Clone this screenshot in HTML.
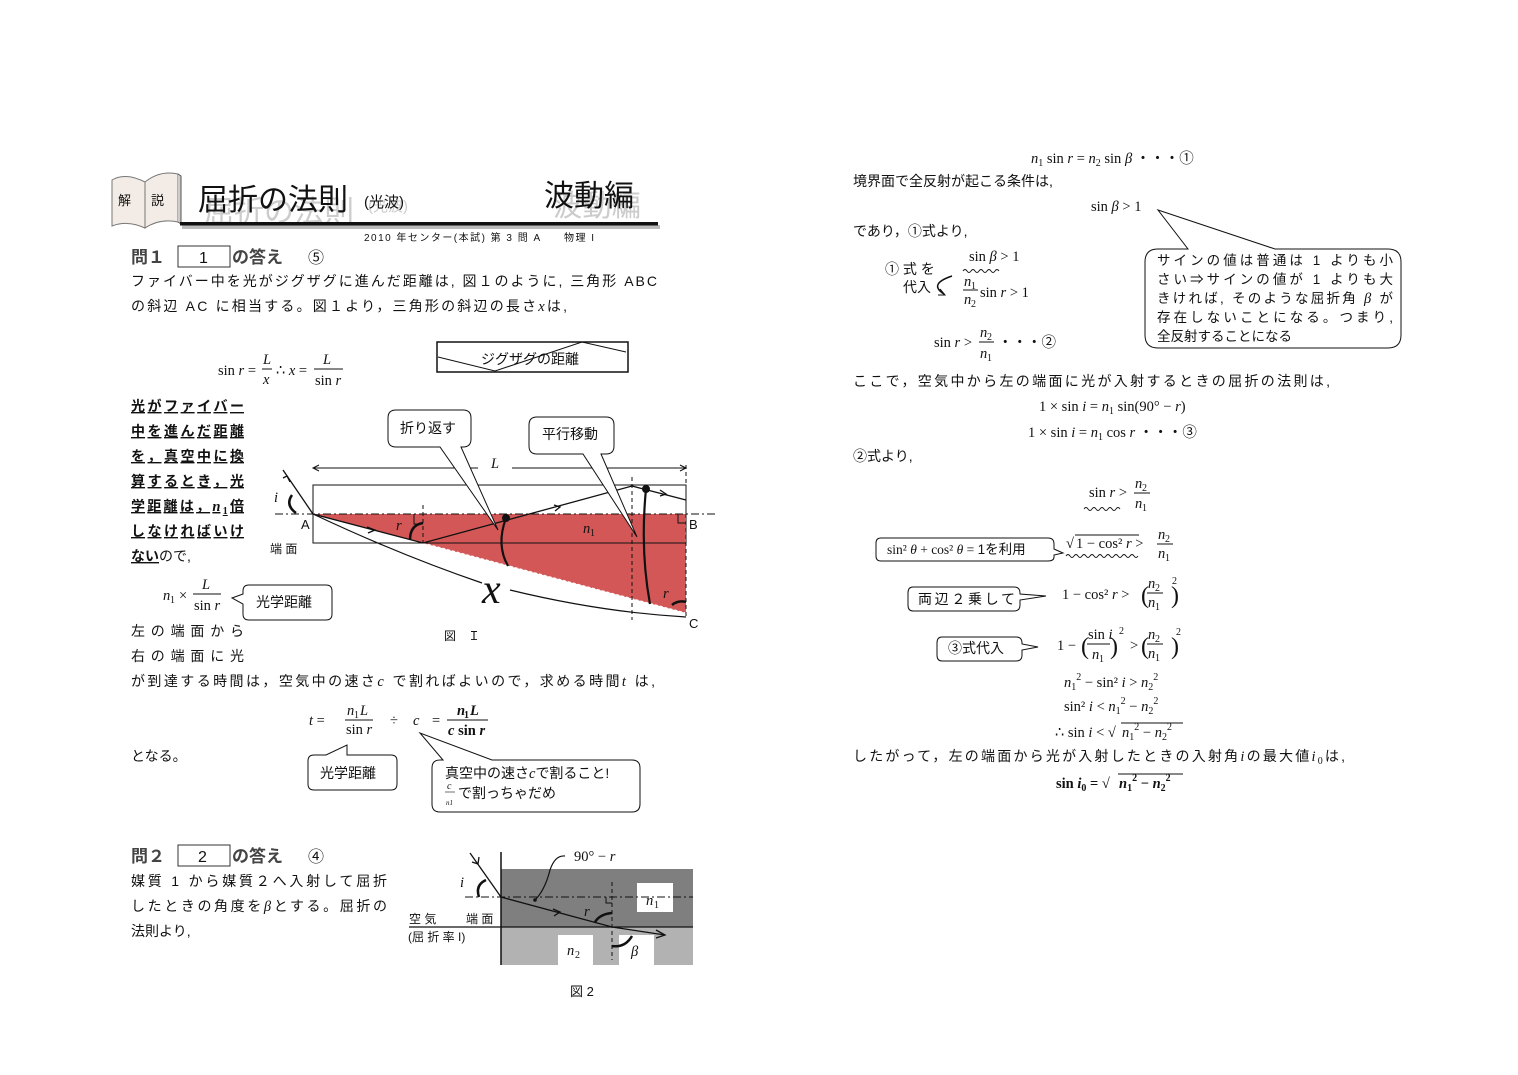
<!DOCTYPE html>
<html><head><meta charset="utf-8"><style>
body{margin:0;background:#fff}
svg{display:block}
.j{font-family:"Liberation Sans","Noto Sans CJK JP",sans-serif;font-size:14px;fill:#111}
.m{font-family:"Liberation Serif","DejaVu Serif",serif;font-size:14.5px;fill:#111}
.s{font-family:"Liberation Serif","DejaVu Serif",serif;font-size:10px;fill:#111}
.i{font-style:italic}
.b{font-weight:bold}
</style></head><body>
<svg width="1518" height="1075" viewBox="0 0 1518 1075" xmlns="http://www.w3.org/2000/svg">
<!-- header -->
<path d="M112,180 Q125,172 145,182 L145,228 Q128,220 112,226 Z" fill="#f3ece6" stroke="#777"/>
<path d="M145,182 Q160,170 178,174 L178,222 Q160,218 145,228 Z" fill="#f3ece6" stroke="#777"/>
<path d="M178,174 L181,176 L181,224 L178,222" fill="#ccc" stroke="#555"/>
<text x="118" y="205" class="j" style="font-size:13px">解</text>
<text x="151" y="205" class="j" style="font-size:13px">説</text>
<text x="204" y="222" class="j" style="font-size:30px;fill:#ccc" textLength="150" lengthAdjust="spacingAndGlyphs">屈折の法則</text>
<text x="198" y="210" class="j" style="font-size:30px" textLength="150" lengthAdjust="spacingAndGlyphs">屈折の法則</text>
<text x="368" y="211" class="j" style="font-size:15px;fill:#ccc">(光波)</text>
<text x="364" y="207" class="j" style="font-size:15px">(光波)</text>
<text x="553" y="216" class="j" style="font-size:30px;fill:#ccc" textLength="88" lengthAdjust="spacingAndGlyphs">波動編</text>
<text x="544" y="206" class="j" style="font-size:30px" textLength="90" lengthAdjust="spacingAndGlyphs">波動編</text>
<rect x="182" y="225" width="478" height="4" fill="#bbb"/>
<rect x="180" y="222" width="478" height="3.5" fill="#111"/>
<text x="364" y="241" class="j" style="font-size:10px" textLength="230">2010 年センター(本試) 第 3 問 A　　物理 I</text>

<!-- 問1 -->
<text x="131" y="263" class="j b" style="font-size:17px;fill:#444">問１</text>
<rect x="178" y="246" width="52" height="21" fill="none" stroke="#333"/>
<text x="199" y="263" class="j" style="font-size:16px">1</text>
<text x="232" y="263" class="j b" style="font-size:17px;fill:#444">の答え</text>
<text x="308" y="263" class="j" style="font-size:16px">⑤</text>
<text x="131" y="286" class="j" textLength="526">ファイバー中を光がジグザグに進んだ距離は, 図１のように, 三角形 ABC</text>
<text x="131" y="311" class="j" textLength="436">の斜辺 AC に相当する。図１より，三角形の斜辺の長さ<tspan class="m i">x</tspan>は,</text>

<text x="218" y="375" class="m">sin <tspan class="i">r</tspan> =</text>
<text x="263" y="364" class="m i">L</text><line x1="262" y1="369" x2="272" y2="369" stroke="#111"/><text x="263" y="384" class="m i">x</text>
<text x="276" y="375" class="m">∴ <tspan class="i">x</tspan> =</text>
<text x="323" y="364" class="m i">L</text><line x1="314" y1="369" x2="343" y2="369" stroke="#111"/><text x="315" y="385" class="m">sin <tspan class="i">r</tspan></text>

<rect x="437" y="342" width="191" height="30" fill="#fff" stroke="#111" stroke-width="1.5"/>
<polyline points="438,357 495,371 582,342 626,352" fill="none" stroke="#111"/>
<text x="481" y="364" class="j">ジグザグの距離</text>

<g class="j b" style="font-size:14px;text-decoration:underline">
<text x="131" y="411" textLength="113">光がファイバー</text>
<text x="131" y="436" textLength="113">中を進んだ距離</text>
<text x="131" y="461" textLength="113">を，真空中に換</text>
<text x="131" y="486" textLength="113">算するとき，光</text>
<text x="131" y="511" textLength="113">学距離は，<tspan class="m i b">n</tspan><tspan class="s b" dy="3">1</tspan><tspan dy="-3">倍</tspan></text>
<text x="131" y="536" textLength="113">しなければいけ</text>
</g>
<text x="131" y="561" class="j"><tspan class="b" style="text-decoration:underline">ない</tspan>ので,</text>

<text x="163" y="600" class="m i">n</text><text x="170" y="603" class="s">1</text><text x="179" y="600" class="m">×</text>
<text x="202" y="589" class="m i">L</text><line x1="193" y1="594" x2="221" y2="594" stroke="#111"/><text x="194" y="610" class="m">sin <tspan class="i">r</tspan></text>
<path d="M249,585 L326,585 Q332,585 332,591 L332,614 Q332,620 326,620 L249,620 Q243,620 243,614 L243,604 L232,598 L243,594 L243,591 Q243,585 249,585 Z" fill="#fff" stroke="#111"/>
<text x="256" y="607" class="j">光学距離</text>

<text x="131" y="636" class="j" textLength="113">左の端面から</text>
<text x="131" y="661" class="j" textLength="113">右の端面に光</text>
<text x="131" y="686" class="j" textLength="524">が到達する時間は，空気中の速さ<tspan class="m i">c</tspan> で割ればよいので，求める時間<tspan class="m i">t</tspan> は,</text>

<text x="309" y="725" class="m"><tspan class="i">t</tspan> =</text>
<text x="347" y="715" class="m i">n</text><text x="354" y="718" class="s">1</text><text x="360" y="715" class="m i">L</text>
<line x1="345" y1="720" x2="373" y2="720" stroke="#111"/><text x="346" y="734" class="m">sin <tspan class="i">r</tspan></text>
<text x="390" y="725" class="m">÷</text><text x="413" y="725" class="m i">c</text><text x="432" y="725" class="m">=</text>
<text x="457" y="715" class="m i b">n</text><text x="464" y="718" class="s b">1</text><text x="470" y="715" class="m i b">L</text>
<line x1="447" y1="720" x2="488" y2="720" stroke="#111"/><text x="448" y="735" class="m b"><tspan class="i">c</tspan> sin <tspan class="i">r</tspan></text>
<text x="131" y="761" class="j">となる。</text>
<path d="M314,755 L326,755 L347,745 L347,755 L391,755 Q397,755 397,761 L397,784 Q397,790 391,790 L314,790 Q308,790 308,784 L308,761 Q308,755 314,755 Z" fill="#fff" stroke="#111"/>
<text x="320" y="778" class="j">光学距離</text>
<path d="M440,760 L443,760 L420,733 L492,760 L632,760 Q640,760 640,768 L640,804 Q640,812 632,812 L440,812 Q432,812 432,804 L432,768 Q432,760 440,760 Z" fill="#fff" stroke="#111"/>
<text x="445" y="778" class="j">真空中の速さ<tspan class="m i">c</tspan>で割ること!</text>
<text x="447" y="789" class="s i">c</text><line x1="445" y1="792" x2="455" y2="792" stroke="#111" stroke-width=".6"/><text x="446" y="805" class="s i" style="font-size:7px">n1</text>
<text x="458" y="798" class="j">で割っちゃだめ</text>

<!-- Figure 1 -->
<line x1="313" y1="468" x2="478" y2="468" stroke="#111"/><line x1="512" y1="468" x2="686" y2="468" stroke="#111"/>
<path d="M319,465 L313,468 L319,471 M680,465 L686,468 L680,471" fill="none" stroke="#111"/>
<text x="491" y="468" class="m i">L</text>
<rect x="313" y="485" width="373" height="58" fill="#fff" stroke="#111"/>
<polygon points="313,514 686,514 686,613" fill="#d45757"/>
<line x1="423" y1="543" x2="686" y2="613" stroke="#fff" stroke-dasharray="3,2"/>
<line x1="313" y1="543" x2="686" y2="543" stroke="#111"/>
<line x1="275" y1="514" x2="716" y2="514" stroke="#111" stroke-dasharray="8,3,2,3"/>
<line x1="423" y1="505" x2="423" y2="543" stroke="#111" stroke-dasharray="4,3"/>
<line x1="632" y1="477" x2="632" y2="620" stroke="#111" stroke-dasharray="4,3"/>
<line x1="686" y1="465" x2="686" y2="617" stroke="#111" stroke-dasharray="4,3"/>
<path d="M414,514 L414,524 L423,524 M686,523 L678,523 L678,514" fill="none" stroke="#111"/>
<polyline points="283,470 313,514 423,543 632,486 686,500" fill="none" stroke="#111" stroke-width="1.3"/>
<path d="M283,478 L287,476 L290,482 M367,527 L375,530 L368,533 M554,505 L560,507 L555,511 M660,490 L666,494 L660,496" fill="none" stroke="#111" stroke-width="1.3"/>
<path d="M296,513 Q285,505 292,495" fill="none" stroke="#111" stroke-width="2.5"/>
<path d="M410,540 Q410,525 423,523" fill="none" stroke="#111" stroke-width="2.5"/>
<path d="M672,605 Q678,600 686,602" fill="none" stroke="#111" stroke-width="2.5"/>
<circle cx="506" cy="518" r="4" fill="#111"/><circle cx="646" cy="489" r="4" fill="#111"/>
<path d="M506,518 Q496,545 508,566" fill="none" stroke="#111" stroke-width="2.2"/>
<path d="M646,489 Q640,550 650,604" fill="none" stroke="#111" stroke-width="2.2"/>
<path d="M313,514 Q400,555 482,583" fill="none" stroke="#111" stroke-width="1.2"/>
<path d="M510,590 Q600,612 686,617" fill="none" stroke="#111" stroke-width="1.2"/>
<text x="482" y="603" style="font-family:'Liberation Serif',serif;font-style:italic;font-size:42px;fill:#111">x</text>
<path d="M396,410 L463,410 Q471,410 471,418 L471,439 Q471,447 463,447 L461,447 L498,530 L440,447 L396,447 Q388,447 388,439 L388,418 Q388,410 396,410 Z" fill="#fff" stroke="#111"/>
<text x="400" y="433" class="j">折り返す</text>
<path d="M537,417 L606,417 Q614,417 614,425 L614,446 Q614,454 606,454 L601,454 L637,537 L583,454 L537,454 Q529,454 529,446 L529,425 Q529,417 537,417 Z" fill="#fff" stroke="#111"/>
<text x="542" y="439" class="j">平行移動</text>
<text x="274" y="502" class="m i">i</text>
<text x="301" y="529" class="j" style="font-size:13px">A</text>
<text x="689" y="529" class="j" style="font-size:13px">B</text>
<text x="689" y="628" class="j" style="font-size:13px">C</text>
<text x="270" y="553" class="j" style="font-size:12px">端 面</text>
<text x="396" y="530" class="m i">r</text>
<text x="583" y="533" class="m i">n</text><text x="590" y="536" class="s">1</text>
<text x="663" y="598" class="m i">r</text>
<text x="444" y="640" class="j" style="font-size:12px">図　Ｉ</text>

<!-- 問2 -->
<text x="131" y="862" class="j b" style="font-size:17px;fill:#444">問２</text>
<rect x="178" y="845" width="52" height="21" fill="none" stroke="#333"/>
<text x="198" y="862" class="j" style="font-size:16px">2</text>
<text x="232" y="862" class="j b" style="font-size:17px;fill:#444">の答え</text>
<text x="308" y="862" class="j" style="font-size:16px">④</text>
<text x="131" y="886" class="j" textLength="256">媒質 1 から媒質２へ入射して屈折</text>
<text x="131" y="911" class="j" textLength="256">したときの角度を<tspan class="m i">β</tspan>とする。屈折の</text>
<text x="131" y="936" class="j">法則より,</text>

<!-- Figure 2 -->
<rect x="501" y="869" width="192" height="58" fill="#7f7f7f"/>
<rect x="501" y="927" width="192" height="38" fill="#b2b2b2"/>
<rect x="637" y="883" width="36" height="29" fill="#fff"/>
<rect x="558" y="935" width="35" height="30" fill="#fff"/>
<rect x="619" y="935" width="35" height="30" fill="#fff"/>
<line x1="501" y1="852" x2="501" y2="965" stroke="#111" stroke-width="1.5"/>
<line x1="409" y1="927" x2="693" y2="927" stroke="#111" stroke-width="1.3"/>
<line x1="465" y1="897" x2="693" y2="897" stroke="#111" stroke-dasharray="8,3,2,3"/>
<line x1="612" y1="882" x2="612" y2="960" stroke="#111" stroke-dasharray="4,3"/>
<path d="M606,897 L606,903 L612,903" fill="none" stroke="#111"/>
<polyline points="470,853 501,897 612,927 665,935" fill="none" stroke="#111" stroke-width="1.3"/>
<path d="M472,862 L478,864 L479,857 M553,909 L560,912 L554,916 M656,930 L665,935 L656,938" fill="none" stroke="#111" stroke-width="1.3"/>
<path d="M479,897 Q475,885 486,880" fill="none" stroke="#111" stroke-width="2.5"/>
<path d="M595,922 Q600,914 612,913" fill="none" stroke="#111" stroke-width="2.5"/>
<path d="M612,946 Q625,948 632,936" fill="none" stroke="#111" stroke-width="2.5"/>
<path d="M535,900 Q545,890 550,870 Q555,855 565,856" fill="none" stroke="#111" stroke-width="1.2"/>
<circle cx="535" cy="900" r="1.8" fill="#111"/>
<text x="574" y="861" class="m">90° − <tspan class="i">r</tspan></text>
<text x="460" y="887" class="m i">i</text>
<text x="584" y="916" class="m i">r</text>
<text x="646" y="905" class="m i">n</text><text x="654" y="908" class="s">1</text>
<text x="567" y="955" class="m i">n</text><text x="575" y="958" class="s">2</text>
<text x="631" y="956" class="m i">β</text>
<text x="409" y="923" class="j" style="font-size:12px">空 気</text>
<text x="466" y="923" class="j" style="font-size:12px">端 面</text>
<text x="408" y="941" class="j" style="font-size:12px">(屈 折 率  I)</text>
<text x="570" y="996" class="j" style="font-size:13px">図 2</text>

<!-- Right column -->
<text x="1031" y="163" class="m"><tspan class="i">n</tspan><tspan class="s" dy="3">1</tspan><tspan dy="-3"> sin </tspan><tspan class="i">r</tspan> = <tspan class="i">n</tspan><tspan class="s" dy="3">2</tspan><tspan dy="-3"> sin </tspan><tspan class="i">β</tspan> ・・・①</text>
<text x="853" y="186" class="j">境界面で全反射が起こる条件は,</text>
<text x="1091" y="211" class="m">sin <tspan class="i">β</tspan> &gt; 1</text>
<text x="853" y="236" class="j">であり，①式より,</text>
<text x="885" y="274" class="j">① 式 を</text>
<text x="903" y="292" class="j">代入</text>
<path d="M952,276 Q928,284 944,294" fill="none" stroke="#111" stroke-width="1.5"/><path d="M940,289 L945,295 L938,295" fill="none" stroke="#111"/>
<text x="969" y="261" class="m">sin <tspan class="i">β</tspan> &gt; 1</text>
<path d="M963,271 q2,-3 4,0 t4,0 t4,0 t4,0 t4,0 t4,0 t4,0 t4,0 t4,0" fill="none" stroke="#111" stroke-width=".9"/>
<text x="964" y="286" class="m i">n</text><text x="971" y="289" class="s">1</text><line x1="963" y1="290" x2="978" y2="290" stroke="#111"/>
<text x="964" y="304" class="m i">n</text><text x="971" y="307" class="s">2</text>
<text x="980" y="297" class="m">sin <tspan class="i">r</tspan> &gt; 1</text>
<text x="934" y="347" class="m">sin <tspan class="i">r</tspan> &gt;</text>
<text x="980" y="337" class="m i">n</text><text x="987" y="340" class="s">2</text><line x1="979" y1="342" x2="994" y2="342" stroke="#111"/>
<text x="980" y="358" class="m i">n</text><text x="987" y="361" class="s">1</text>
<text x="998" y="347" class="m">・・・②</text>
<path d="M1158,210 L1275,249 L1388,249 Q1401,249 1401,262 L1401,335 Q1401,348 1388,348 L1158,348 Q1145,348 1145,335 L1145,262 Q1145,249 1158,249 L1188,249 Z" fill="#fff" stroke="#111"/>
<g class="j" style="font-size:13.5px">
<text x="1157" y="265" textLength="236">サインの値は普通は 1 よりも小</text>
<text x="1157" y="284" textLength="236">さい⇒サインの値が 1 よりも大</text>
<text x="1157" y="303" textLength="236">きければ, そのような屈折角 <tspan class="m i">β</tspan> が</text>
<text x="1157" y="322" textLength="236">存在しないことになる。つまり,</text>
<text x="1157" y="341">全反射することになる</text>
</g>
<text x="853" y="386" class="j" textLength="477">ここで，空気中から左の端面に光が入射するときの屈折の法則は,</text>
<text x="1039" y="411" class="m">1 × sin <tspan class="i">i</tspan> = <tspan class="i">n</tspan><tspan class="s" dy="3">1</tspan><tspan dy="-3"> sin(90° − </tspan><tspan class="i">r</tspan>)</text>
<text x="1028" y="437" class="m">1 × sin <tspan class="i">i</tspan> = <tspan class="i">n</tspan><tspan class="s" dy="3">1</tspan><tspan dy="-3"> cos </tspan><tspan class="i">r</tspan> ・・・③</text>
<text x="853" y="461" class="j">②式より,</text>
<text x="1089" y="497" class="m">sin <tspan class="i">r</tspan> &gt;</text>
<text x="1135" y="488" class="m i">n</text><text x="1142" y="491" class="s">2</text><line x1="1134" y1="493" x2="1150" y2="493" stroke="#111"/>
<text x="1135" y="508" class="m i">n</text><text x="1142" y="511" class="s">1</text>
<path d="M1084,509 q2,-3 4,0 t4,0 t4,0 t4,0 t4,0 t4,0 t4,0 t4,0 t4,0" fill="none" stroke="#111" stroke-width=".9"/>

<path d="M881,538 L1048,538 Q1054,538 1054,544 L1054,549 L1063,553 L1054,555 L1054,557 Q1054,561 1048,561 L881,561 Q876,561 876,556 L876,543 Q876,538 881,538 Z" fill="#fff" stroke="#111"/>
<text x="887" y="554" class="m" style="font-size:13.5px">sin² <tspan class="i">θ</tspan> + cos² <tspan class="i">θ</tspan> = <tspan class="j" style="font-size:13.5px">1を利用</tspan></text>
<text x="1066" y="548" class="m">√</text><line x1="1075" y1="535" x2="1139" y2="535" stroke="#111"/>
<text x="1076" y="548" class="m">1 − cos² <tspan class="i">r</tspan> &gt;</text>
<text x="1158" y="539" class="m i">n</text><text x="1165" y="542" class="s">2</text><line x1="1157" y1="544" x2="1173" y2="544" stroke="#111"/>
<text x="1158" y="558" class="m i">n</text><text x="1165" y="561" class="s">1</text>
<path d="M1066,556 q2,-3 4,0 t4,0 t4,0 t4,0 t4,0 t4,0 t4,0 t4,0 t4,0 t4,0 t4,0 t4,0 t4,0 t4,0 t4,0 t4,0 t4,0 t4,0" fill="none" stroke="#111" stroke-width=".9"/>

<path d="M913,587 L1014,587 Q1020,587 1020,593 L1020,594 L1046,596 L1020,600 L1020,605 Q1020,611 1014,611 L913,611 Q908,611 908,605 L908,593 Q908,587 913,587 Z" fill="#fff" stroke="#111"/>
<text x="918" y="604" class="j" textLength="97">両辺２乗して</text>
<text x="1062" y="599" class="m">1 − cos² <tspan class="i">r</tspan> &gt;</text>
<text x="1141" y="603" class="m" style="font-size:24px">(</text><text x="1171" y="603" class="m" style="font-size:24px">)</text>
<text x="1148" y="588" class="m i">n</text><text x="1155" y="591" class="s">2</text><line x1="1147" y1="593" x2="1163" y2="593" stroke="#111"/>
<text x="1148" y="607" class="m i">n</text><text x="1155" y="610" class="s">1</text><text x="1172" y="584" class="s">2</text>

<path d="M942,637 L1016,637 Q1022,637 1022,643 L1022,644 L1038,647 L1022,650 L1022,655 Q1022,661 1016,661 L942,661 Q937,661 937,655 L937,643 Q937,637 942,637 Z" fill="#fff" stroke="#111"/>
<text x="948" y="653" class="j">③式代入</text>
<text x="1057" y="650" class="m">1 −</text>
<text x="1081" y="654" class="m" style="font-size:24px">(</text><text x="1110" y="654" class="m" style="font-size:24px">)</text>
<text x="1088" y="639" class="m">sin <tspan class="i">i</tspan></text><line x1="1087" y1="644" x2="1110" y2="644" stroke="#111"/>
<text x="1092" y="659" class="m i">n</text><text x="1099" y="662" class="s">1</text><text x="1119" y="634" class="s">2</text>
<text x="1130" y="650" class="m">&gt;</text>
<text x="1141" y="654" class="m" style="font-size:24px">(</text><text x="1171" y="654" class="m" style="font-size:24px">)</text>
<text x="1148" y="639" class="m i">n</text><text x="1155" y="642" class="s">2</text><line x1="1147" y1="644" x2="1163" y2="644" stroke="#111"/>
<text x="1148" y="658" class="m i">n</text><text x="1155" y="661" class="s">1</text><text x="1176" y="635" class="s">2</text>

<text x="1064" y="687" class="m"><tspan class="i">n</tspan><tspan class="s" dy="3">1</tspan><tspan class="s" dy="-10">2</tspan><tspan dy="7"> − sin² <tspan class="i">i</tspan> &gt; </tspan><tspan class="i">n</tspan><tspan class="s" dy="3">2</tspan><tspan class="s" dy="-10">2</tspan></text>
<text x="1064" y="711" class="m">sin² <tspan class="i">i</tspan> &lt; <tspan class="i">n</tspan><tspan class="s" dy="3">1</tspan><tspan class="s" dy="-10">2</tspan><tspan dy="7"> − </tspan><tspan class="i">n</tspan><tspan class="s" dy="3">2</tspan><tspan class="s" dy="-10">2</tspan></text>
<text x="1055" y="737" class="m">∴ sin <tspan class="i">i</tspan> &lt; √</text><line x1="1121" y1="723" x2="1183" y2="723" stroke="#111"/>
<text x="1122" y="737" class="m"><tspan class="i">n</tspan><tspan class="s" dy="3">1</tspan><tspan class="s" dy="-10">2</tspan><tspan dy="7"> − </tspan><tspan class="i">n</tspan><tspan class="s" dy="3">2</tspan><tspan class="s" dy="-10">2</tspan></text>
<text x="853" y="761" class="j" textLength="492">したがって，左の端面から光が入射したときの入射角<tspan class="m i">i</tspan>の最大値<tspan class="m i">i</tspan><tspan class="s" dy="3">0</tspan><tspan dy="-3">は,</tspan></text>
<text x="1056" y="788" class="m b">sin <tspan class="i">i</tspan><tspan class="s b" dy="3">0</tspan><tspan dy="-3"> = √</tspan></text><line x1="1118" y1="774" x2="1183" y2="774" stroke="#111"/>
<text x="1119" y="788" class="m b"><tspan class="i">n</tspan><tspan class="s b" dy="3">1</tspan><tspan class="s b" dy="-10">2</tspan><tspan dy="7"> − </tspan><tspan class="i">n</tspan><tspan class="s b" dy="3">2</tspan><tspan class="s b" dy="-10">2</tspan></text>
</svg>
</body></html>
